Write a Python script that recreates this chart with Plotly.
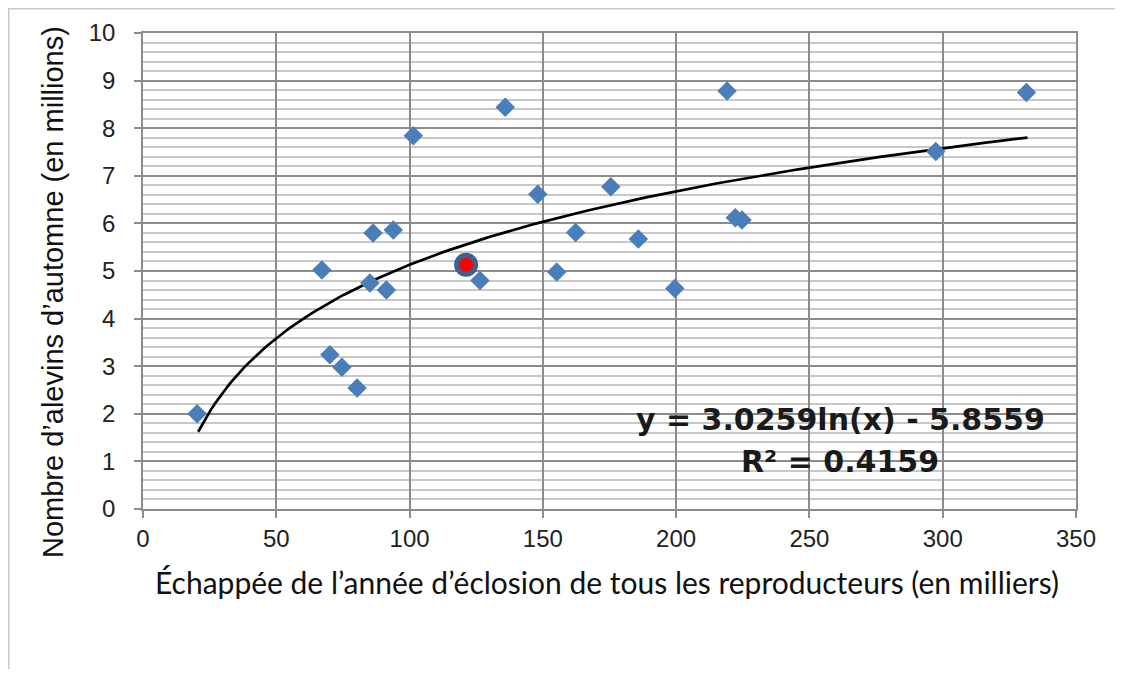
import numpy as np
import plotly.graph_objects as go

# Escapement (thousands) vs fall fry (millions)
x_vals = [20.3, 67.1, 70.1, 74.6, 80.3, 85.1, 86.3, 91.3, 93.9, 101.4,
          126.4, 135.9, 148.1, 155.2, 162.3, 175.5, 185.8, 199.5, 219.1,
          222.2, 224.7, 297.4, 331.4]
y_vals = [2.00, 5.02, 3.24, 2.98, 2.54, 4.75, 5.80, 4.60, 5.86, 7.84,
          4.80, 8.44, 6.61, 4.98, 5.81, 6.77, 5.67, 4.63, 8.78,
          6.12, 6.07, 7.51, 8.75]

# highlighted year
hl_x = [121.2]
hl_y = [5.13]

# logarithmic trendline as drawn (coefficients)
trend_a = 2.228
trend_b = -5.129
trend_x0, trend_x1 = 20.7, 331.8

eq_lines = ["y = 3.0259ln(x) - 5.8559", "R² = 0.4159"]

x_ticks = [0, 50, 100, 150, 200, 250, 300, 350]
y_ticks = list(range(0, 11))

tx = np.linspace(trend_x0, trend_x1, 200)
ty = trend_a * np.log(tx) + trend_b

fig = go.Figure()
fig.add_trace(go.Scatter(x=tx, y=ty, mode="lines",
                         line=dict(color="black", width=2.7),
                         hoverinfo="skip", showlegend=False))
fig.add_trace(go.Scatter(x=x_vals, y=y_vals, mode="markers",
                         marker=dict(symbol="diamond", size=15, color="#4a7ebb"),
                         showlegend=False))
fig.add_trace(go.Scatter(x=hl_x, y=hl_y, mode="markers",
                         marker=dict(symbol="circle", size=19, color="#ff0000",
                                     line=dict(color="#3f5f8c", width=5)),
                         showlegend=False))

axis_col = "#8c8c8c"
tick_font = dict(family="Liberation Sans", size=24, color="#222222")
fig.update_xaxes(range=[0, 350], tickvals=x_ticks, showgrid=True,
                 gridcolor=axis_col, gridwidth=1.5, showline=True,
                 linecolor=axis_col, linewidth=1.5, mirror=True,
                 ticks="outside", ticklen=7, tickcolor=axis_col, tickwidth=1.5,
                 tickfont=tick_font, zeroline=False)
fig.update_yaxes(range=[0, 10], tickvals=y_ticks, showgrid=True,
                 gridcolor=axis_col, gridwidth=1.5, showline=True,
                 linecolor=axis_col, linewidth=1.5, mirror=True,
                 ticks="outside", ticklen=7, tickcolor=axis_col, tickwidth=1.5,
                 tickfont=tick_font, ticklabelstandoff=14, zeroline=False,
                 minor=dict(dtick=0.2, showgrid=True, gridcolor="#c8c8c8",
                            gridwidth=2, ticks=""))

# page body adds an 8px offset; compensate so the plot lands where the reference has it
OFF = 8
W, H = 1123 - OFF, 677 - OFF - 8
L, T = 143 - OFF, 33 - OFF
pw, ph = 933, 476
R = W - L - pw
B = H - T - ph


def px_to_paper(px, py):
    fx, fy = px - OFF, py - OFF
    return (fx - L) / pw, (T + ph - fy) / ph


# Outer chart frame (left and top edges visible)
x0, y0 = (0.5 - L) / pw, (T + ph - 0.5) / ph
x1, y1 = (W + 20 - L) / pw, (T + ph - H - 20) / ph
fig.add_shape(type="rect", xref="paper", yref="paper", x0=x0, y0=y1, x1=x1, y1=y0,
              line=dict(color="#c8c8c8", width=2), layer="below")

ax, ay = px_to_paper(53, 292)
fig.add_annotation(text="Nombre d’alevins d’automne (en millions)",
                   xref="paper", yref="paper", x=ax, y=ay, textangle=-90,
                   showarrow=False, xanchor="center", yanchor="middle",
                   font=dict(family="Liberation Sans", size=29, color="#111111"))
bx, by = px_to_paper(607, 582)
fig.add_annotation(text="Échappée de l’année d’éclosion de tous les reproducteurs (en milliers)",
                   xref="paper", yref="paper", x=bx, y=by,
                   showarrow=False, xanchor="center", yanchor="middle",
                   font=dict(family="Lato", size=30, color="#111111"))
ex, ey = px_to_paper(840, 419)
fig.add_annotation(text=eq_lines[0], xref="paper", yref="paper", x=ex, y=ey,
                   showarrow=False, xanchor="center", yanchor="middle",
                   font=dict(family="DejaVu Sans", size=30, color="#1a1a1a", weight="bold"))
rx, ry = px_to_paper(840, 461)
fig.add_annotation(text=eq_lines[1], xref="paper", yref="paper", x=rx, y=ry,
                   showarrow=False, xanchor="center", yanchor="middle",
                   font=dict(family="DejaVu Sans", size=30, color="#1a1a1a", weight="bold"))

fig.update_layout(width=W, height=H, margin=dict(l=L, r=R, t=T, b=B, autoexpand=False),
                  plot_bgcolor="white", paper_bgcolor="white", showlegend=False)

fig.write_html("out.html")
